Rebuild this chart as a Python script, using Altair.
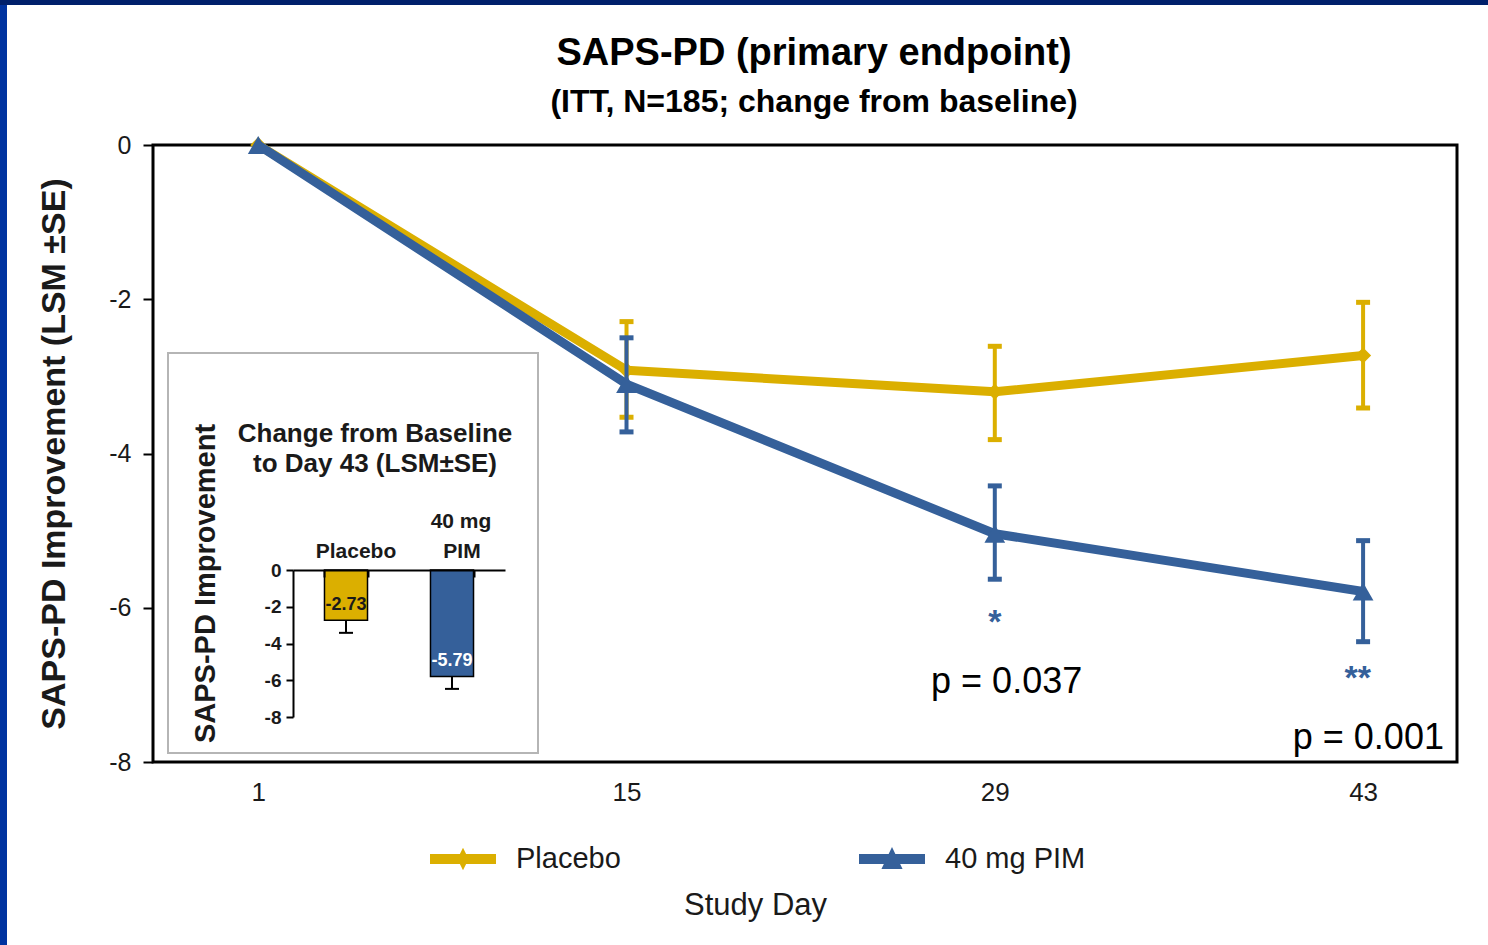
import altair as alt
import pandas as pd

FONT = "Liberation Sans"

# ---------------- data ----------------
series_names = ["Placebo", "40 mg PIM"]
series_colors = ["#DBAF00", "#35609A"]
study_days = [1, 15, 29, 43]
placebo_lsm = [0.0, -2.92, -3.20, -2.73]
pim_lsm = [0.0, -3.10, -5.04, -5.79]

se_days = [15, 29, 43]
placebo_upper = [-2.29, -2.61, -2.04]
placebo_lower = [-3.53, -3.82, -3.41]
pim_upper = [-2.50, -4.42, -5.13]
pim_lower = [-3.72, -5.63, -6.44]

x_ticks = [1, 15, 29, 43]
y_ticks = [0, -2, -4, -6, -8]

star_day = [29, 42.8]
star_level = [-6.33, -7.05]
star_text = ["*", "**"]
pval_day = [29.45, 43.2]
pval_level = [-7.10, -7.83]
pval_text = ["p = 0.037", "p = 0.001"]

inset_groups = ["Placebo", "40 mg PIM"]
inset_head_top = ["", "40 mg"]
inset_head_bottom = ["Placebo", "PIM"]
inset_change = [-2.73, -5.79]
inset_err_low = [-3.42, -6.47]
inset_change_text = ["-2.73", "-5.79"]
inset_ticks = [0, -2, -4, -6, -8]

# legend glyphs: a line with the series marker on it (unit box -1..1)
legend_glyphs = [
    "M-1,-0.15L1,-0.15L1,0.15L-1,0.15Z M0,-0.34L0.17,0L0,0.34L-0.17,0Z",
    "M-1,-0.15L1,-0.15L1,0.15L-1,0.15Z M0,-0.36L0.32,0.3L-0.32,0.3Z",
]

# ---------------- tables ----------------
line_df = pd.DataFrame({
    "series": [s for s in series_names for _ in study_days],
    "day": study_days * 2,
    "lsm": placebo_lsm + pim_lsm,
})
err_df = pd.DataFrame({
    "series": [s for s in series_names for _ in se_days],
    "day": se_days * 2,
    "upper": placebo_upper + pim_upper,
    "lower": placebo_lower + pim_lower,
})
star_df = pd.DataFrame({"day": star_day, "lsm": star_level, "txt": star_text})
pval_df = pd.DataFrame({"day": pval_day, "lsm": pval_level, "txt": pval_text})
inset_df = pd.DataFrame({
    "series": inset_groups,
    "head_top": inset_head_top,
    "head_bottom": inset_head_bottom,
    "change": inset_change,
    "low": inset_err_low,
    "txt": inset_change_text,
})
legend_df = pd.DataFrame({"series": series_names})
dummy = pd.DataFrame({"a": [0]})

W, H = 1304, 617

# ---------------- main panel ----------------
xs = alt.Scale(domain=[-3, 46.57], nice=False, zero=False)
ys = alt.Scale(domain=[-8, 0], nice=False, zero=False)
x_axis = alt.Axis(
    orient="bottom", values=x_ticks, title="Study Day", ticks=False, domain=False,
    grid=False, labelFontSize=26, labelPadding=17, labelColor="#1a1a1a",
    labelFont=FONT, titleFont=FONT, titleFontSize=31, titleFontWeight="normal",
    titleColor="#1a1a1a", titleX=602, titleY=143, titleBaseline="middle", zindex=1,
)
y_axis = alt.Axis(
    orient="left", values=y_ticks, title="SAPS-PD Improvement  (LSM \u00b1SE)",
    domain=False, grid=False, tickSize=10, tickWidth=2, tickColor="black",
    labelFontSize=25, labelPadding=12, labelFont=FONT, labelColor="#1a1a1a",
    labelExpr="'' + datum.value",
    titleFont=FONT, titleFontSize=34, titleFontWeight="bold", titlePadding=37,
    titleColor="#1a1a1a", zindex=1,
)
color_scale = alt.Scale(domain=series_names, range=series_colors)
shape_scale = alt.Scale(domain=series_names, range=legend_glyphs)
legend = alt.Legend(
    orient="none", legendX=277, legendY=681, direction="horizontal", title=None,
    symbolSize=4356, symbolOpacity=1, symbolStrokeWidth=0,
    labelFontSize=29, labelFont=FONT, labelColor="#1a1a1a", columnPadding=238,
    labelOffset=20, padding=0,
)

X = alt.X("day:Q", scale=xs, axis=x_axis)


def Y(field):
    return alt.Y(field, type="quantitative", scale=ys, axis=y_axis)


main_layers = []
for i, s in enumerate(series_names):
    c = series_colors[i]
    shape = "diamond" if i == 0 else "triangle-up"
    size = 260 if i == 0 else 430
    f = alt.datum.series == s
    line = alt.Chart(line_df).transform_filter(f).mark_line(
        strokeWidth=9, strokeJoin="round", color=c
    ).encode(x=X, y=Y("lsm"))
    rule = alt.Chart(err_df).transform_filter(f).mark_rule(strokeWidth=4, color=c).encode(
        x=X, y=Y("upper"), y2="lower:Q")
    cap_hi = alt.Chart(err_df).transform_filter(f).mark_tick(
        orient="horizontal", size=14, thickness=5, color=c, opacity=1).encode(x=X, y=Y("upper"))
    cap_lo = alt.Chart(err_df).transform_filter(f).mark_tick(
        orient="horizontal", size=14, thickness=5, color=c, opacity=1).encode(x=X, y=Y("lower"))
    pts = alt.Chart(line_df).transform_filter(f).mark_point(
        shape=shape, filled=True, size=size, color=c, opacity=1).encode(x=X, y=Y("lsm"))
    main_layers += [line, rule, cap_hi, cap_lo, pts]

# legend carrier (drawn far outside the canvas, only its legend is visible)
legend_layer = alt.Chart(legend_df).mark_point(filled=True, opacity=1, size=4356).encode(
    x=alt.value(-3000), y=alt.value(300),
    fill=alt.Fill("series:N", scale=color_scale, legend=None),
    shape=alt.Shape("series:N", scale=shape_scale, legend=legend),
)

stars = alt.Chart(star_df).mark_text(
    font=FONT, fontSize=34, fontWeight="bold", color=series_colors[1], baseline="alphabetic"
).encode(x=X, y=Y("lsm"), text="txt:N")
pvals = alt.Chart(pval_df).mark_text(
    font=FONT, fontSize=36, color="black", baseline="alphabetic"
).encode(x=X, y=Y("lsm"), text="txt:N")
main_layers += [stars, pvals, legend_layer]

main = alt.layer(*main_layers)

# ---------------- inset panel ----------------
xi = alt.Scale(domain=inset_groups, range=[140, 352], paddingInner=0.594, paddingOuter=0.297)
yi = alt.Scale(domain=[-8, 0], range=[572, 425], nice=False, zero=False)
xi_axis = alt.Axis(
    orient="bottom", offset=-192, labels=False, title=None, domain=True,
    domainColor="black", domainWidth=2, ticks=True, tickSize=7, tickWidth=2,
    tickColor="black", tickBand="extent", grid=False, zindex=1,
)
yi_axis = alt.Axis(
    orient="left", offset=-140, values=inset_ticks, title="SAPS-PD Improvement",
    titleX=-88, titleY=438, titleBaseline="middle", titleFont=FONT, titleFontSize=29,
    titleFontWeight="bold", titleColor="#1a1a1a",
    labelFont=FONT, labelFontSize=19, labelFontWeight="bold", labelColor="#1a1a1a",
    labelExpr="'' + datum.value", labelPadding=5,
    domain=True, domainColor="black", domainWidth=2, tickSize=7, tickWidth=2,
    tickColor="black", grid=False, zindex=1,
)
XI = alt.X("series:N", scale=xi, axis=xi_axis, sort=inset_groups)


def YI(field):
    return alt.Y(field, type="quantitative", scale=yi, axis=yi_axis)


strip_left = alt.Chart(dummy).mark_rect(color="#0033A0").encode(
    x=alt.value(-153), x2=alt.value(-146), y=alt.value(-145), y2=alt.value(800))
strip_top = alt.Chart(dummy).mark_rect(color="#00206B").encode(
    x=alt.value(-153), x2=alt.value(1335), y=alt.value(-145), y2=alt.value(-140))
box = alt.Chart(dummy).mark_rect(fillOpacity=0, stroke="#b5b5b5", strokeWidth=2).encode(
    x=alt.value(15), x2=alt.value(385), y=alt.value(208), y2=alt.value(608))
inset_title = alt.Chart(dummy).mark_text(
    font=FONT, fontSize=26, fontWeight="bold", color="#1a1a1a", lineBreak="\n",
    lineHeight=30, baseline="middle", align="center"
).encode(x=alt.value(222), y=alt.value(289),
         text=alt.value("Change from Baseline\nto Day 43 (LSM\u00b1SE)"))

bars = alt.Chart(inset_df).mark_bar(stroke="black", strokeWidth=1.5).encode(
    x=XI, y=YI("change"), y2=alt.datum(0),
    color=alt.Color("series:N", scale=alt.Scale(domain=series_names, range=series_colors), legend=None),
)
ierr = alt.Chart(inset_df).mark_rule(strokeWidth=2, color="black").encode(
    x=XI, y=YI("change"), y2="low:Q")
icap = alt.Chart(inset_df).mark_tick(orient="horizontal", size=14, thickness=2,
                                     color="black", opacity=1).encode(x=XI, y=YI("low"))
ival = alt.Chart(inset_df).mark_text(
    font=FONT, fontSize=18, fontWeight="bold", dy=-15, baseline="middle"
).encode(x=XI, y=YI("change"), text="txt:N",
         color=alt.condition(alt.datum.series == "Placebo", alt.value("#1a1a1a"), alt.value("white")))
ihead_bottom = alt.Chart(inset_df).mark_text(
    font=FONT, fontSize=21, fontWeight="bold", color="#1a1a1a", baseline="bottom",
    dy=-8, dx=10
).encode(x=XI, y=alt.datum(0), text="head_bottom:N")
ihead_top = alt.Chart(inset_df).mark_text(
    font=FONT, fontSize=21, fontWeight="bold", color="#1a1a1a", baseline="bottom",
    dy=-38, dx=9
).encode(x=XI, y=alt.datum(0), text="head_top:N")

inset = alt.layer(strip_left, strip_top, box, inset_title, bars, ierr, icap, ival,
                  ihead_bottom, ihead_top)

chart = alt.layer(inset, main).resolve_scale(
    x="independent", y="independent", color="independent"
).properties(
    width=W, height=H,
    title=alt.TitleParams(
        text="SAPS-PD (primary endpoint)",
        subtitle="(ITT, N=185; change from baseline)",
        font=FONT, fontSize=38, fontWeight="bold", color="black",
        subtitleFont=FONT, subtitleFontSize=32, subtitleFontWeight="bold",
        subtitleColor="black", subtitlePadding=14, anchor="middle", offset=-118, dx=9,
        frame="group",
    ),
    padding={"left": 153, "top": 145, "right": 31, "bottom": 183},
    autosize=alt.AutoSizeParams(type="none"),
    background="white",
).configure_view(stroke="black", strokeWidth=3)

chart.save("out.html", embed_options={"renderer": "svg", "actions": False})
